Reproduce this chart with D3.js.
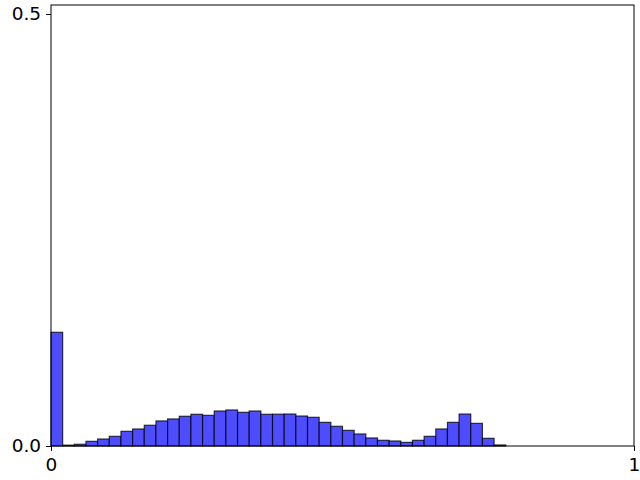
<!DOCTYPE html>
<html>
<head>
<meta charset="utf-8">
<script src="https://cdn.jsdelivr.net/npm/d3@7"></script>
<style>
  body { margin: 0; background: #fff; }
  svg { display: block; }
</style>
</head>
<body>
<div id="canvas"></div>
<script>
// histogram of 50 equal bins on [0, 1]
var binCount = 50;
var binHeights = [
  0.1316, 0.0010, 0.0020, 0.0054, 0.0081, 0.0112, 0.0170, 0.0197, 0.0240, 0.0290,
  0.0313, 0.0344, 0.0367, 0.0355, 0.0405, 0.0417, 0.0390, 0.0405, 0.0367, 0.0368,
  0.0370, 0.0347, 0.0332, 0.0274, 0.0228, 0.0181, 0.0139, 0.0093, 0.0066, 0.0058,
  0.0042, 0.0066, 0.0112, 0.0197, 0.0274, 0.0370, 0.0262, 0.0089, 0.0012, 0,
  0, 0, 0, 0, 0, 0, 0, 0, 0, 0
];
var xTicks = [0, 1];
var yTicks = [0.0, 0.5];

var width = 640;
var height = 480;
var margin = {top: 5, right: 6, bottom: 34, left: 51};

var svg = d3.select("#canvas")
    .append("svg")
    .attr("width", width)
    .attr("height", height);

var x = d3.scaleLinear()
    .domain([0, 1])
    .range([margin.left, width - margin.right]);

var y = d3.scaleLinear()
    .domain([0, 0.5104])
    .range([height - margin.bottom, margin.top]);

var binWidth = 1 / binCount;

// bars, empty bins are not drawn
var bars = svg.append("g");
binHeights.forEach(function(h, i) {
    if (h <= 0) return;
    bars.append("rect")
        .attr("x", x(i * binWidth))
        .attr("y", y(h))
        .attr("width", x((i + 1) * binWidth) - x(i * binWidth))
        .attr("height", y(0) - y(h))
        .attr("fill", "rgb(77,77,255)")
        .attr("stroke", "#000")
        .attr("stroke-opacity", 0.75)
        .attr("stroke-width", 1.2);
});

// frame
svg.append("rect")
    .attr("x", x(0))
    .attr("y", y.range()[1])
    .attr("width", x(1) - x(0))
    .attr("height", y(0) - y.range()[1])
    .attr("fill", "none")
    .attr("stroke", "#000")
    .attr("stroke-width", 1);

// axes
var xAxis = svg.append("g")
    .attr("transform", "translate(0," + y(0) + ")")
    .call(d3.axisBottom(x).tickValues(xTicks).tickFormat(d3.format("d")).tickSize(4.9).tickPadding(7));

var yAxis = svg.append("g")
    .attr("transform", "translate(" + x(0) + ",0)")
    .call(d3.axisLeft(y).tickValues(yTicks).tickFormat(d3.format(".1f")).tickSize(4.9).tickPadding(5));

[xAxis, yAxis].forEach(function(a) {
    a.attr("font-family", "DejaVu Sans").attr("font-size", 18.5);
    a.select(".domain").remove();
    a.selectAll(".tick line").attr("stroke", "#000").attr("stroke-width", 1);
    a.selectAll(".tick text").attr("fill", "#000");
});
</script>
</body>
</html>
